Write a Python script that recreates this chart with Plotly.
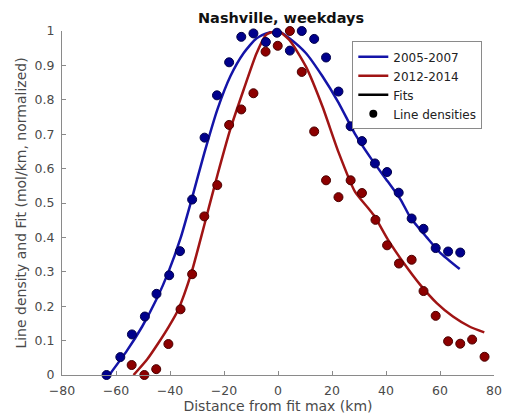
import plotly.graph_objects as go

# Line densities (normalized), 2005-2007
x_0507 = [-63.5, -58.4, -54.1, -49.3, -45.0, -40.3, -36.3, -31.8, -27.2, -22.6,
          -18.1, -13.6, -9.1, -4.5, -0.4, 4.4, 8.8, 13.4, 17.8, 22.4,
          26.9, 31.1, 35.9, 40.4, 44.7, 49.5, 53.9, 58.4, 63.0, 67.5]
y_0507 = [0.0, 0.052, 0.118, 0.17, 0.236, 0.29, 0.36, 0.51, 0.69, 0.813,
          0.909, 0.983, 0.993, 0.968, 0.995, 0.943, 1.0, 0.977, 0.923, 0.824,
          0.723, 0.68, 0.615, 0.59, 0.53, 0.455, 0.425, 0.369, 0.359, 0.356]

# Line densities (normalized), 2012-2014
x_1214 = [-54.2, -49.5, -45.1, -40.6, -36.1, -31.8, -27.3, -22.5, -18.1, -13.6,
          -9.1, -4.6, -0.1, 4.4, 8.8, 13.4, 17.8, 22.4, 26.9, 31.1,
          36.1, 40.4, 44.8, 49.5, 53.9, 58.4, 63.0, 67.5, 71.9, 76.5]
y_1214 = [0.029, 0.0, 0.017, 0.09, 0.191, 0.293, 0.461, 0.552, 0.727, 0.772,
          0.819, 0.94, 0.957, 1.0, 0.881, 0.708, 0.566, 0.517, 0.566, 0.529,
          0.451, 0.377, 0.324, 0.335, 0.244, 0.172, 0.098, 0.091, 0.103, 0.053]

# Fitted curves
fx_0507 = [-62.5, -56.0, -50.3, -45.0, -40.6, -36.0, -32.1, -27.3, -22.4, -17.6,
           -12.7, -7.9, -3.1, 0.0, 4.2, 10.3, 16.4, 22.4, 28.5, 34.5,
           40.6, 45.4, 49.1, 55.1, 60.0, 67.3]
fy_0507 = [0.0, 0.07, 0.141, 0.22, 0.299, 0.40, 0.507, 0.645, 0.773, 0.869,
           0.936, 0.979, 0.996, 1.0, 0.979, 0.936, 0.869, 0.792, 0.701, 0.629,
           0.563, 0.51, 0.457, 0.40, 0.356, 0.308]

fx_1214 = [-53.5, -48.5, -44.3, -40.5, -37.0, -32.1, -28.5, -25.5, -22.4, -17.6,
           -12.7, -7.9, -4.3, 0.0, 4.2, 10.3, 16.4, 22.4, 28.5, 33.3,
           35.7, 40.6, 46.7, 52.7, 58.8, 64.8, 70.9, 76.4]
fy_1214 = [0.0, 0.045, 0.093, 0.14, 0.189, 0.296, 0.40, 0.49, 0.582, 0.716,
           0.83, 0.936, 0.99, 1.0, 0.974, 0.897, 0.782, 0.648, 0.533, 0.486,
           0.462, 0.395, 0.324, 0.262, 0.209, 0.17, 0.141, 0.124]

x_ticks = [-80, -60, -40, -20, 0, 20, 40, 60, 80]
y_ticks = [0, 0.1, 0.2, 0.3, 0.4, 0.5, 0.6, 0.7, 0.8, 0.9, 1]
y_ticktext = ["0", "0.1", "0.2", "0.3", "0.4", "0.5", "0.6", "0.7", "0.8", "0.9", "1"]

BLUE_LINE = "#1414a8"
RED_LINE = "#a01414"
BLUE_DOT = "#00008c"
RED_DOT = "#8c0000"
FONT = "DejaVu Sans"

fig = go.Figure()

fig.add_trace(go.Scatter(
    x=fx_0507, y=fy_0507, mode="lines", name="2005-2007",
    line=dict(color=BLUE_LINE, width=2.5, shape="spline", smoothing=0.6),
))
fig.add_trace(go.Scatter(
    x=fx_1214, y=fy_1214, mode="lines", name="2012-2014",
    line=dict(color=RED_LINE, width=2.5, shape="spline", smoothing=0.6),
))
# Legend-only entries
fig.add_trace(go.Scatter(
    x=[None], y=[None], mode="lines", name="Fits",
    line=dict(color="black", width=2.5),
))
fig.add_trace(go.Scatter(
    x=[None], y=[None], mode="markers", name="Line densities",
    marker=dict(color="black", size=8),
))

fig.add_trace(go.Scatter(
    x=x_0507, y=y_0507, mode="markers", showlegend=False, cliponaxis=False,
    marker=dict(color=BLUE_DOT, size=9, line=dict(color="#00004a", width=1)),
))
fig.add_trace(go.Scatter(
    x=x_1214, y=y_1214, mode="markers", showlegend=False, cliponaxis=False,
    marker=dict(color=RED_DOT, size=9, line=dict(color="#4a0000", width=1)),
))

axis_common = dict(
    showgrid=False, zeroline=False, showline=True, linecolor="#8a8a8a",
    linewidth=1, ticks="inside", ticklen=4, tickcolor="#8a8a8a",
    tickfont=dict(family=FONT, size=12.5, color="#4a4a4a"),
    mirror=False,
)

fig.update_layout(
    width=511, height=419,
    margin=dict(l=62, r=9, t=31, b=40),
    paper_bgcolor="white", plot_bgcolor="white",
    font=dict(family=FONT, color="#4a4a4a"),
    title=dict(text="<b>Nashville, weekdays</b>", x=0.55, xanchor="center",
               y=0.957, yanchor="middle",
               font=dict(family=FONT, size=14.5, color="#111111")),
    xaxis=dict(range=[-80, 80], tickvals=x_ticks, ticklabelstandoff=4,
               title=dict(text="Distance from fit max (km)", standoff=2,
                          font=dict(family=FONT, size=14, color="#4a4a4a")),
               **axis_common),
    yaxis=dict(range=[0, 1], tickvals=y_ticks, ticktext=y_ticktext,
               ticklabelstandoff=4,
               title=dict(text="Line density and Fit (mol/km, normalized)", standoff=4,
                          font=dict(family=FONT, size=14, color="#4a4a4a")),
               **axis_common),
    legend=dict(x=0.672, y=0.97, xanchor="left", yanchor="top",
                bgcolor="white", bordercolor="#8a8a8a", borderwidth=1,
                font=dict(family=FONT, size=12, color="#222222"),
                tracegroupgap=0, itemwidth=30),
    showlegend=True,
)

fig.write_html("out.html")
